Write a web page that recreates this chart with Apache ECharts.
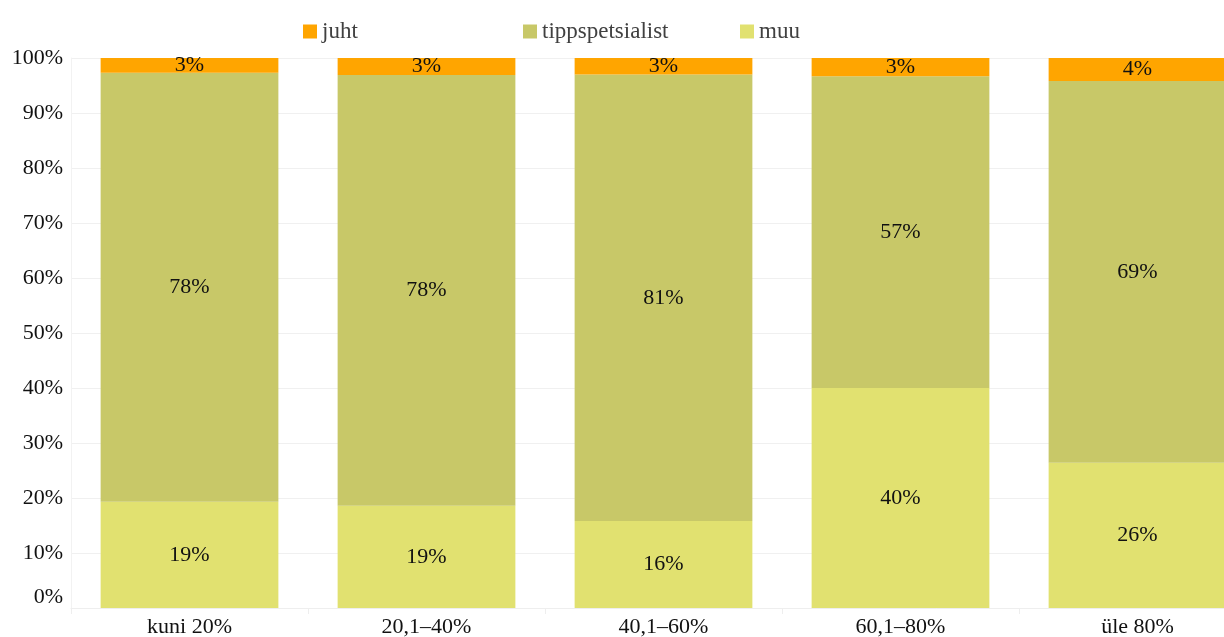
<!DOCTYPE html>
<html>
<head>
<meta charset="utf-8">
<script src="https://cdn.jsdelivr.net/npm/echarts@6/dist/echarts.min.js"></script>
<style>
  html, body { margin: 0; padding: 0; background: #fff; }
  #chart { width: 1224px; height: 637px; }
</style>
</head>
<body>
<div id="chart"></div>
<script>
const categories = ["kuni 20%", "20,1–40%", "40,1–60%", "60,1–80%", "üle 80%"];
const muu = [19.3, 18.6, 15.8, 40.0, 26.4];
const tippspetsialist = [78.0, 78.3, 81.2, 56.7, 69.4];
const juht = [2.7, 3.1, 3.0, 3.3, 4.2];
const yTicks = [0, 10, 20, 30, 40, 50, 60, 70, 80, 90, 100];

const font = "'Liberation Serif', 'Times New Roman', serif";
const colors = { juht: "#FFA500", tipp: "#C8C868", muu: "#E1E170" };

const chart = echarts.init(document.getElementById("chart"));

function legendAt(name, left) {
  return {
    data: [name],
    left: left,
    top: 15,
    icon: "rect",
    itemWidth: 14,
    itemHeight: 14,
    itemGap: 0,
    selectedMode: false,
    textStyle: { fontFamily: font, fontSize: 23, color: "#404040" }
  };
}

const labelStyle = {
  show: true,
  position: "inside",
  fontFamily: font,
  fontSize: 22,
  color: "#111",
  formatter: p => Math.round(p.value) + "%"
};

chart.setOption({
  animation: false,
  legend: [
    legendAt("juht", 298),
    legendAt("tippspetsialist", 518),
    legendAt("muu", 735)
  ],
  grid: { left: 71, top: 58, width: 1185, height: 550, outerBoundsMode: "none" },
  xAxis: {
    type: "category",
    data: categories,
    axisLine: { lineStyle: { color: "#eeeeee" } },
    axisTick: { show: true, length: 6, lineStyle: { color: "#eeeeee" } },
    axisLabel: { fontFamily: font, fontSize: 22, color: "#111", margin: 8 }
  },
  yAxis: {
    type: "value",
    min: yTicks[0],
    max: yTicks[yTicks.length - 1],
    interval: 10,
    axisLine: { show: true, lineStyle: { color: "#f2f2f2" } },
    axisTick: { show: false },
    splitLine: { lineStyle: { color: "#f0f0f0" } },
    axisLabel: {
      fontFamily: font,
      fontSize: 22,
      color: "#111",
      margin: 8,
      formatter: v => v === 0 ? "{z|0%}" : v + "%",
      rich: { z: { fontFamily: font, fontSize: 22, color: "#111", padding: [0, 0, 22, 0] } }
    }
  },
  series: [
    { name: "muu", type: "bar", stack: "total", barWidth: "75%", data: muu,
      itemStyle: { color: colors.muu }, label: labelStyle },
    { name: "tippspetsialist", type: "bar", stack: "total", data: tippspetsialist,
      itemStyle: { color: colors.tipp }, label: labelStyle },
    { name: "juht", type: "bar", stack: "total", data: juht,
      itemStyle: { color: colors.juht }, label: labelStyle }
  ]
});
</script>
</body>
</html>
